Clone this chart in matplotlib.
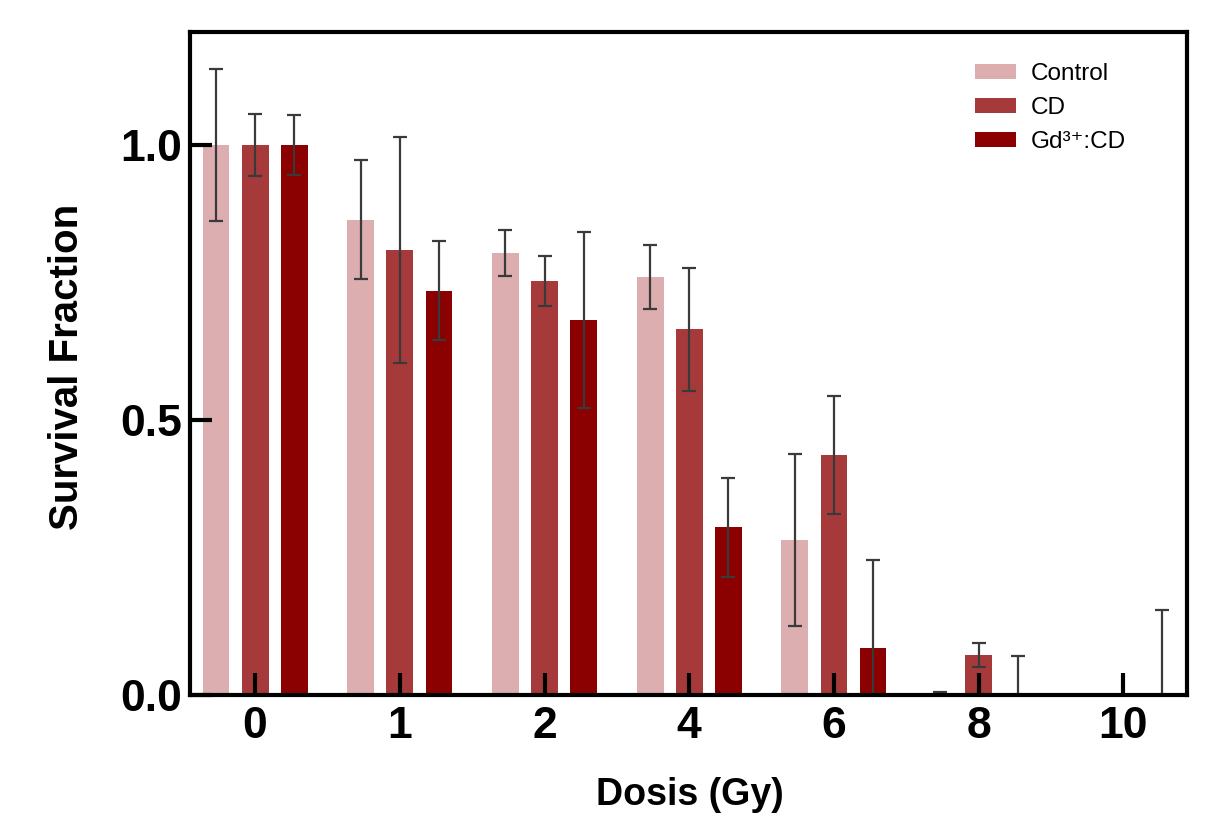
import matplotlib
matplotlib.use("Agg")
import matplotlib.pyplot as plt
import numpy as np

plt.rcParams['font.family'] = ['Liberation Sans', 'DejaVu Sans']

doses = ["0", "1", "2", "4", "6", "8", "10"]
series_names = ["Control", "CD", "Gd³⁺:CD"]
control = [1.00, 0.864, 0.804, 0.760, 0.282, 0.003, 0.0]
control_err = [0.138, 0.108, 0.042, 0.058, 0.157, 0.002, 0.0]
cd = [1.00, 0.809, 0.753, 0.665, 0.436, 0.073, 0.0]
cd_err = [0.056, 0.205, 0.045, 0.112, 0.107, 0.022, 0.0]
gd = [1.00, 0.735, 0.682, 0.305, 0.085, 0.0, 0.0]
gd_err = [0.055, 0.090, 0.160, 0.090, 0.160, 0.071, 0.155]

colors = ["#dcaeb0", "#a63a3b", "#8b0000"]

fig = plt.figure(figsize=(12.13, 8.24), dpi=100)
ax = fig.add_axes([190/1213, 1-695/824, (1187-190)/1213, (695-32)/824])
ax.set_axisbelow(False)

x = np.arange(len(doses))
offsets = [-0.27, 0.0, 0.27]
width = 0.185
for vals, errs, off, col, name in zip([control, cd, gd], [control_err, cd_err, gd_err],
                                       offsets, colors, series_names):
    ax.bar(x + off, vals, width=width, color=col, label=name, zorder=2)
    ax.errorbar(x + off, vals, yerr=errs, fmt='none', ecolor='#3a3a3a',
                elinewidth=1.6, capsize=5, capthick=1.6, zorder=3)

ax.set_xlim(-0.45, 6.44)
ax.set_ylim(0, 1.2055)
ax.set_xticks(x)
ax.set_xticklabels(doses)
ax.set_yticks([0.0, 0.5, 1.0])
ax.set_yticklabels(["0.0", "0.5", "1.0"])
ax.tick_params(axis='both', direction='in', length=16, width=3, labelsize=32)
ax.tick_params(axis='x', pad=8)
ax.tick_params(axis='y', pad=6)
for lab in ax.get_xticklabels() + ax.get_yticklabels():
    lab.set_fontweight('bold')
for sp in ax.spines.values():
    sp.set_linewidth(3)
    sp.set_zorder(4)

fig.text(67/1213, 1-367/824, "Survival Fraction", rotation=90, ha='center', va='center',
         fontsize=29, fontweight='bold')
fig.text(690/1213, 1-795/824, "Dosis (Gy)", ha='center', va='center',
         fontsize=27, fontweight='bold')

leg = ax.legend(loc='upper left', bbox_to_anchor=(975/1213, 1-63/824),
                bbox_transform=fig.transFigure, frameon=False, fontsize=17.5,
                handlelength=1.7, handleheight=0.55, handletextpad=0.6,
                labelspacing=0.5, borderpad=0, borderaxespad=0)

fig.savefig("out.png", dpi=100)
